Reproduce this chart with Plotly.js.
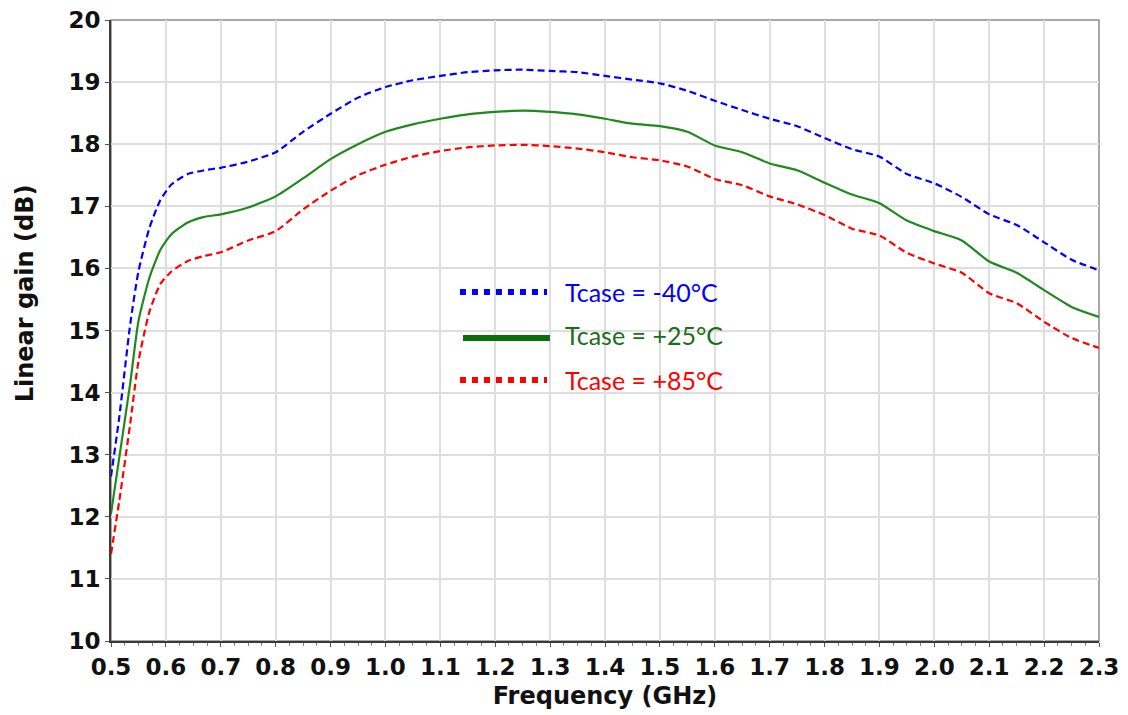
<!DOCTYPE html>
<html>
<head>
<meta charset="utf-8">
<script src="https://cdn.plot.ly/plotly-3.0.1.min.js"></script>
<style>
html,body{margin:0;padding:0;background:#fff;}
#chart{width:1128px;height:715px;}
</style>
</head>
<body>
<div id="chart"></div>
<script>
// Frequency (GHz)
const freq = [0.5,0.515,0.535,0.55,0.57,0.59,0.61,0.64,0.67,0.7,0.75,0.8,0.85,0.9,0.95,1.0,1.05,1.1,1.15,1.2,1.25,1.3,1.35,1.4,1.45,1.5,1.55,1.6,1.65,1.7,1.75,1.8,1.85,1.9,1.95,2.0,2.05,2.1,2.15,2.2,2.25,2.3];
// Linear gain (dB), Tcase = -40°C
const gainM40 = [12.65,13.6,15.1,15.95,16.65,17.1,17.35,17.52,17.58,17.62,17.72,17.87,18.2,18.49,18.75,18.92,19.03,19.1,19.16,19.19,19.2,19.18,19.16,19.1,19.04,18.98,18.86,18.7,18.55,18.41,18.29,18.1,17.92,17.8,17.52,17.37,17.15,16.87,16.7,16.42,16.14,15.97];
// Linear gain (dB), Tcase = +25°C
const gainP25 = [12.05,12.95,14.15,15.15,15.85,16.3,16.55,16.74,16.83,16.87,16.98,17.16,17.45,17.76,18.0,18.2,18.32,18.41,18.48,18.52,18.54,18.52,18.48,18.41,18.33,18.29,18.2,17.98,17.87,17.69,17.58,17.38,17.19,17.05,16.77,16.6,16.45,16.11,15.93,15.65,15.38,15.22];
// Linear gain (dB), Tcase = +85°C
const gainP85 = [11.4,12.25,13.5,14.5,15.3,15.75,15.95,16.12,16.2,16.26,16.45,16.6,16.95,17.25,17.5,17.67,17.8,17.89,17.95,17.98,17.99,17.97,17.93,17.87,17.79,17.74,17.64,17.44,17.34,17.16,17.03,16.86,16.64,16.53,16.25,16.08,15.93,15.6,15.44,15.14,14.88,14.72];

const seriesNames = ['Tcase = -40°C','Tcase = +25°C','Tcase = +85°C'];
const xTickVals = [0.5,0.6,0.7,0.8,0.9,1.0,1.1,1.2,1.3,1.4,1.5,1.6,1.7,1.8,1.9,2.0,2.1,2.2,2.3];
const yTickVals = [10,11,12,13,14,15,16,17,18,19,20];

const BLUE = '#0000ff', GREEN = '#1e8a1e', RED = '#ff0000';
const GREEN_DARK = '#1a6e1a';

const traces = [
  {x: freq, y: gainM40, name: seriesNames[0], mode: 'lines',
   line: {color: BLUE, width: 2.2, dash: '7px,4px', shape: 'spline', smoothing: 0.6}},
  {x: freq, y: gainP25, name: seriesNames[1], mode: 'lines',
   line: {color: GREEN, width: 2.2, shape: 'spline', smoothing: 0.6}},
  {x: freq, y: gainP85, name: seriesNames[2], mode: 'lines',
   line: {color: RED, width: 2.2, dash: '7px,4px', shape: 'spline', smoothing: 0.6}}
];

const tickFont = {family: 'DejaVu Sans', size: 23, color: '#111', weight: 'bold'};
const titleFont = {family: 'DejaVu Sans', size: 24, color: '#111', weight: 'bold'};
const legFont = {family: 'Lato', size: 25};

const layout = {
  width: 1128, height: 715,
  margin: {l: 111, r: 29, t: 20, b: 74},
  paper_bgcolor: '#ffffff', plot_bgcolor: '#ffffff',
  showlegend: false,
  xaxis: {
    range: [0.5, 2.3], tickvals: xTickVals, tickformat: '.1f',
    showgrid: true, gridcolor: '#dedede', gridwidth: 1.5,
    showline: true, linecolor: '#3a3a3a', linewidth: 2,
    ticks: 'outside', ticklen: 4, tickcolor: '#555', tickwidth: 1,
    minor: {dtick: 0.025, ticks: 'outside', ticklen: 3, tickcolor: '#888', showgrid: false},
    tickfont: tickFont, zeroline: false,
    title: {text: 'Frequency (GHz)', font: titleFont, standoff: 9}
  },
  yaxis: {
    range: [10, 20], tickvals: yTickVals,
    showgrid: true, gridcolor: '#dedede', gridwidth: 1.5,
    showline: true, linecolor: '#3a3a3a', linewidth: 2,
    ticks: 'outside', ticklen: 4, tickcolor: '#555', tickwidth: 1,
    tickfont: tickFont, zeroline: false
  },
  shapes: [
    {type: 'rect', xref: 'paper', yref: 'paper', x0: 0, x1: 1, y0: 0, y1: 1,
     line: {color: '#8c8c8c', width: 1.5}, layer: 'below'},
    {type: 'line', xref: 'paper', yref: 'paper', x0: 0.3532, x1: 0.4413, y0: 0.562, y1: 0.562,
     line: {color: BLUE, width: 6, dash: '6px,6px'}},
    {type: 'line', xref: 'paper', yref: 'paper', x0: 0.3563, x1: 0.4443, y0: 0.4879, y1: 0.4879,
     line: {color: '#0b6e0b', width: 6}},
    {type: 'line', xref: 'paper', yref: 'paper', x0: 0.3532, x1: 0.4413, y0: 0.4203, y1: 0.4203,
     line: {color: RED, width: 6, dash: '6px,6px'}}
  ],
  annotations: [
    {xref: 'paper', yref: 'paper', x: 0.4575, y: 0.562, xanchor: 'left', yanchor: 'middle',
     text: seriesNames[0], showarrow: false, font: Object.assign({}, legFont, {color: BLUE})},
    {xref: 'paper', yref: 'paper', x: 0.4575, y: 0.4928, xanchor: 'left', yanchor: 'middle',
     text: seriesNames[1], showarrow: false, font: Object.assign({}, legFont, {color: GREEN_DARK})},
    {xref: 'paper', yref: 'paper', x: 0.4575, y: 0.4203, xanchor: 'left', yanchor: 'middle',
     text: seriesNames[2], showarrow: false, font: Object.assign({}, legFont, {color: RED})},
    {xref: 'paper', yref: 'paper', x: -0.087, y: 0.56, xanchor: 'center', yanchor: 'middle',
     textangle: -90, text: 'Linear gain (dB)', showarrow: false, font: titleFont}
  ]
};

Plotly.newPlot('chart', traces, layout, {displayModeBar: false, responsive: false});
</script>
</body>
</html>
